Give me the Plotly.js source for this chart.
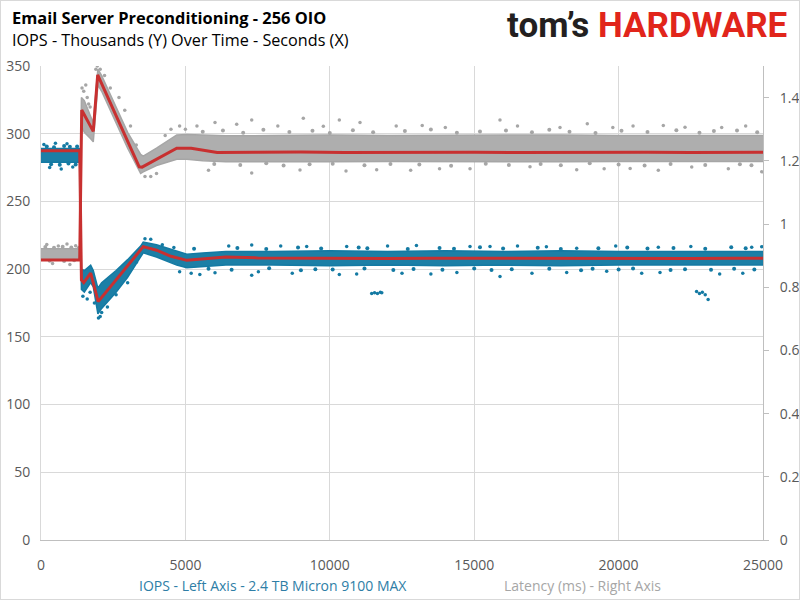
<!DOCTYPE html>
<html>
<head>
<meta charset="utf-8">
<script src="https://cdn.plot.ly/plotly-3.0.1.min.js"></script>
<style>
  html, body { margin: 0; padding: 0; background: #fff; }
  #wrap { position: relative; width: 800px; height: 600px; }
  #chart { width: 800px; height: 600px; }
  #frame { position: absolute; left: 0; top: 0; width: 800px; height: 600px; box-sizing: border-box; border: 1px solid #d9d9d9; pointer-events: none; }
</style>
</head>
<body>
<div id="wrap"><div id="chart"></div><div id="frame"></div></div>
<script>
// ---- Data ----
// Dense-band envelopes, time in seconds
const bandT   = [0, 1340, 1400, 1500, 1720, 1810, 1970, 2100, 2600, 3000, 3450, 3540, 4000, 4700, 5050, 5600, 6400, 8000, 10000, 12000, 14000, 16000, 18000, 20000, 22000, 24000, 25000];
// IOPS (thousands), left axis
const iopsHi  = [289, 289, 200, 199, 203, 199, 186, 190, 199, 207, 217, 220, 218, 213, 211, 212, 213, 213, 213.5, 213, 213.5, 213, 213.5, 213, 213, 213.5, 213];
const iopsLo  = [279, 279, 185, 183, 190, 187, 167, 171, 183, 194, 209, 212, 209, 203, 201, 202, 203, 203, 202.5, 203, 202.5, 203, 202.5, 203, 203, 202.5, 203];
// Latency (ms), right axis
const latHi   = [0.922, 0.922, 1.40, 1.39, 1.34, 1.32, 1.49, 1.47, 1.37, 1.29, 1.22, 1.215, 1.24, 1.282, 1.283, 1.282, 1.279, 1.28, 1.282, 1.28, 1.281, 1.28, 1.282, 1.28, 1.281, 1.28, 1.28];
const latLo   = [0.888, 0.888, 1.31, 1.29, 1.27, 1.26, 1.44, 1.42, 1.32, 1.24, 1.16, 1.165, 1.185, 1.205, 1.205, 1.2, 1.197, 1.198, 1.197, 1.198, 1.197, 1.198, 1.197, 1.198, 1.197, 1.198, 1.198];

// Moving-average (red) lines
const iopsAvgT = [0, 600, 1340, 1400, 1480, 1720, 1980, 2500, 3000, 3540, 4000, 4500, 5050, 5600, 6400, 7500, 9000, 10500, 12000, 13500, 15000, 16500, 18000, 19500, 21000, 22500, 24000, 25000];
const iopsAvg  = [287.5, 287.3, 287.5, 192, 190, 197, 176, 189.5, 202.5, 216.6, 214, 209.5, 206.5, 207.5, 209, 208.3, 208, 208.2, 207.8, 208.1, 208, 207.9, 208.2, 208, 208.1, 207.9, 208, 208];
const latAvgT  = [0, 600, 1340, 1410, 1810, 1963, 2500, 3000, 3400, 3500, 4000, 4700, 5200, 6100, 7500, 9000, 10500, 12000, 13500, 15000, 16500, 18000, 19500, 21000, 22500, 24000, 25000];
const latAvg   = [0.886, 0.886, 0.886, 1.361, 1.293, 1.472, 1.363, 1.262, 1.181, 1.180, 1.205, 1.240, 1.240, 1.226, 1.227, 1.228, 1.226, 1.227, 1.228, 1.227, 1.226, 1.227, 1.228, 1.227, 1.226, 1.227, 1.227];

// Individual scattered points outside the dense bands
const iopsOutT = [100, 500, 900, 300, 700, 1100,
  1450, 1600, 1700, 1850, 1990, 2050, 2100, 2300, 2600, 3000, 3300, 3600, 3800, 4200, 4600, 4800, 5200, 5500,
  6500, 7296, 8300, 9200, 10585, 12000, 13000, 14855, 15547, 16500, 17500, 18549, 19900, 21375, 22500, 24609, 24955,
  6025, 7296, 7527, 8700, 10330, 10930, 12500, 13500, 14400, 15893, 17000, 18203, 19588, 20800, 21434, 23500, 24300,
  11450, 11550, 11650, 11750, 11800, 22700, 22800, 22900, 23000, 23100];
const iopsOutV = [292, 293, 292.5, 275, 274, 275.5,
  180, 178, 183, 175, 164, 165, 168, 172, 181, 190, 205, 222.5, 222, 218, 216, 198, 197, 196,
  217, 217.8, 217, 216.7, 216.7, 217, 217.5, 216.7, 216.7, 217, 216.5, 215.4, 217, 216.1, 216.8, 216.1, 216.6,
  197.3, 195.5, 198, 197, 196, 196.5, 197, 196.5, 197.5, 194.6, 197, 197.6, 198.4, 197, 197.6, 196.5, 197,
  182, 182.5, 182, 183, 182.5, 183.5, 182, 183, 181, 177.5];
// Points on the ragged edges of the IOPS band
const iopsEdgeT = [200, 450, 800, 1000, 1250, 350, 650, 950, 1200,
  5300, 6800, 7800, 8900, 9700, 11000, 11300, 12700, 13800, 14300, 15200, 16000, 17200, 18000, 19300, 20300, 21000, 21900, 23000, 23900, 24400,
  5800, 6600, 7900, 9000, 9500, 10100, 11200, 12200, 12900, 13900, 15000, 15600, 16300, 17600, 18700, 19100, 20000, 20500, 21800, 22300, 23200, 24000, 24700];
const iopsEdgeV = [290.5, 290, 291, 290.3, 290.6, 277.5, 277, 278, 277.2,
  215, 215.6, 214.8, 215.9, 215.2, 216, 215.4, 214.9, 215.7, 215.1, 216.2, 215.3, 215.8, 214.9, 215.5, 216, 215.2, 215.7, 215, 216.1, 215.4,
  200.2, 199.5, 200.6, 199.2, 200, 199.7, 200.4, 199.3, 200.1, 199.6, 200.5, 199.4, 199.9, 200.3, 199.1, 200.2, 199.8, 200.5, 199.4, 200, 199.6, 200.3, 199.8];
const latOutT = [200, 600, 900, 1200, 400, 1000,
  1420, 1480, 1550, 1600, 1650, 1700, 1900, 1950, 2050, 2200, 2400, 2700, 2900, 3100, 3300, 3600, 3800, 4000, 4300, 4500, 4800, 5000, 5400,
  6025, 6776, 7296, 8200, 9083, 9776, 10330, 11046, 12300, 13200, 14000, 15893, 16500, 17971, 18916, 19800, 20500, 21548, 22300, 23570, 24400,
  5800, 7296, 8968, 10561, 11623, 12800, 13800, 14855, 16932, 18549, 19500, 20400, 21375, 22532, 23800, 24955];
const latOutV = [0.935, 0.93, 0.937, 0.931, 0.875, 0.872,
  1.43, 1.42, 1.44, 1.40, 1.38, 1.37, 1.49, 1.50, 1.49, 1.47, 1.43, 1.40, 1.36, 1.31, 1.25, 1.15, 1.15, 1.16, 1.28, 1.30, 1.31, 1.30, 1.31,
  1.321, 1.316, 1.329, 1.31, 1.335, 1.309, 1.329, 1.321, 1.31, 1.312, 1.305, 1.329, 1.31, 1.305, 1.317, 1.305, 1.31, 1.312, 1.306, 1.305, 1.31,
  1.17, 1.161, 1.171, 1.168, 1.172, 1.17, 1.175, 1.175, 1.181, 1.172, 1.175, 1.176, 1.17, 1.18, 1.175, 1.165];
// Points on the ragged edges of the latency band
const latEdgeT = [150, 450, 750, 1050, 1300, 300, 800, 1150,
  5600, 6300, 7000, 7700, 8600, 9400, 10000, 10800, 11500, 12600, 13500, 14400, 15200, 16100, 17000, 17600, 18300, 19200, 20100, 21000, 22000, 22800, 23300, 24100, 24800,
  6000, 6900, 7800, 8400, 9300, 10100, 11200, 12100, 13100, 14200, 15400, 16200, 17300, 18000, 19000, 20000, 20900, 21800, 23000, 24200, 24600];
const latEdgeV = [0.927, 0.925, 0.928, 0.926, 0.924, 0.884, 0.883, 0.885,
  1.292, 1.296, 1.289, 1.298, 1.291, 1.295, 1.288, 1.297, 1.29, 1.294, 1.299, 1.289, 1.293, 1.296, 1.29, 1.298, 1.292, 1.288, 1.295, 1.291, 1.297, 1.289, 1.294, 1.296, 1.29,
  1.19, 1.187, 1.192, 1.185, 1.189, 1.191, 1.186, 1.19, 1.188, 1.184, 1.191, 1.187, 1.19, 1.186, 1.192, 1.188, 1.185, 1.19, 1.187, 1.189, 1.186];

const xTicks = [0, 5000, 10000, 15000, 20000, 25000];

// ---- Styling ----
const BLUE = 'rgb(20,122,163)';
const BLUEFILL = 'rgb(28,127,166)';
const GRAY = 'rgb(166,166,166)';
const GRAYFILL = 'rgb(174,174,174)';
const RED = 'rgb(200,48,48)';
const FONT = 'Open Sans, Noto Sans, sans-serif';

const traces = [
  { x: bandT, y: iopsLo, type: 'scatter', mode: 'lines', line: {width: 1.5, color: BLUE}, hoverinfo: 'skip' },
  { x: bandT, y: iopsHi, type: 'scatter', mode: 'lines', fill: 'tonexty', fillcolor: BLUEFILL, line: {width: 1.5, color: BLUE}, hoverinfo: 'skip' },
  { x: iopsEdgeT, y: iopsEdgeV, type: 'scatter', mode: 'markers', marker: {size: 4, color: BLUE} },
  { x: iopsOutT, y: iopsOutV, type: 'scatter', mode: 'markers', marker: {size: 3.5, color: BLUE} },
  { x: iopsAvgT, y: iopsAvg, type: 'scatter', mode: 'lines', line: {width: 3, color: RED} },
  { x: bandT, y: latLo, yaxis: 'y2', type: 'scatter', mode: 'lines', line: {width: 1.5, color: GRAY}, hoverinfo: 'skip' },
  { x: bandT, y: latHi, yaxis: 'y2', type: 'scatter', mode: 'lines', fill: 'tonexty', fillcolor: GRAYFILL, line: {width: 1.5, color: GRAY}, hoverinfo: 'skip' },
  { x: latEdgeT, y: latEdgeV, yaxis: 'y2', type: 'scatter', mode: 'markers', marker: {size: 4, color: GRAY} },
  { x: latOutT, y: latOutV, yaxis: 'y2', type: 'scatter', mode: 'markers', marker: {size: 3.5, color: GRAY} },
  { x: latAvgT, y: latAvg, yaxis: 'y2', type: 'scatter', mode: 'lines', line: {width: 3, color: RED} }
];

function px(p) { return (p - 41) / 722; }
function py(p) { return (540 - p) / 474; }

const layout = {
  width: 800, height: 600,
  margin: {l: 41, r: 37, t: 66, b: 60, pad: 0},
  paper_bgcolor: '#fff', plot_bgcolor: '#fff',
  font: {family: FONT, color: '#595959', size: 14},
  showlegend: false,
  xaxis: {
    range: [0, 25000], tickvals: xTicks, ticktext: xTicks.map(String),
    showgrid: true, gridcolor: '#d9d9d9', gridwidth: 1,
    showline: true, linecolor: '#bfbfbf', linewidth: 1,
    zeroline: false, ticks: '', ticklabelstandoff: 12, tickfont: {size: 14, color: '#595959'}
  },
  yaxis: {
    range: [0, 350], dtick: 50, tick0: 0,
    showgrid: true, gridcolor: '#d9d9d9', gridwidth: 1,
    showline: true, linecolor: '#d9d9d9', linewidth: 1,
    zeroline: false, ticks: '', ticklabelstandoff: 7, tickfont: {size: 14, color: '#595959'}
  },
  yaxis2: {
    range: [0, 1.5], dtick: 0.2, tick0: 0, overlaying: 'y', side: 'right',
    showgrid: false, showline: true, linecolor: '#bfbfbf', linewidth: 1,
    zeroline: false, ticks: 'outside', ticklen: 5, tickcolor: '#bfbfbf', ticklabelstandoff: 8,
    tickfont: {size: 14, color: '#595959'}
  },
  annotations: [
    { xref: 'paper', yref: 'paper', x: px(10), y: py(17), xanchor: 'left', yanchor: 'middle', showarrow: false,
      text: '<b>Email Server Preconditioning - 256 OIO</b>', font: {family: FONT, size: 16.4, color: '#000'} },
    { xref: 'paper', yref: 'paper', x: px(10), y: py(40), xanchor: 'left', yanchor: 'middle', showarrow: false,
      text: 'IOPS - Thousands (Y) Over Time - Seconds (X)', font: {family: FONT, size: 16.2, color: '#000'} },
    { xref: 'paper', yref: 'paper', x: px(789), y: py(26), xanchor: 'right', yanchor: 'middle', showarrow: false,
      text: '<b><span style="color:#231f20">tom’s</span> <span style="color:#e1251b">HARDWARE</span></b>',
      font: {family: 'Roboto, sans-serif', size: 35, color: '#231f20'} },
    { xref: 'paper', yref: 'paper', x: px(272.5), y: py(585), xanchor: 'center', yanchor: 'middle', showarrow: false,
      text: 'IOPS - Left Axis - 2.4 TB Micron 9100 MAX', font: {family: FONT, size: 14, color: '#2e7ea6'} },
    { xref: 'paper', yref: 'paper', x: px(582.5), y: py(585), xanchor: 'center', yanchor: 'middle', showarrow: false,
      text: 'Latency (ms) - Right Axis', font: {family: FONT, size: 14, color: '#a6a6a6'} }
  ]
};

Plotly.newPlot('chart', traces, layout, {staticPlot: true, displayModeBar: false});
</script>
</body>
</html>
